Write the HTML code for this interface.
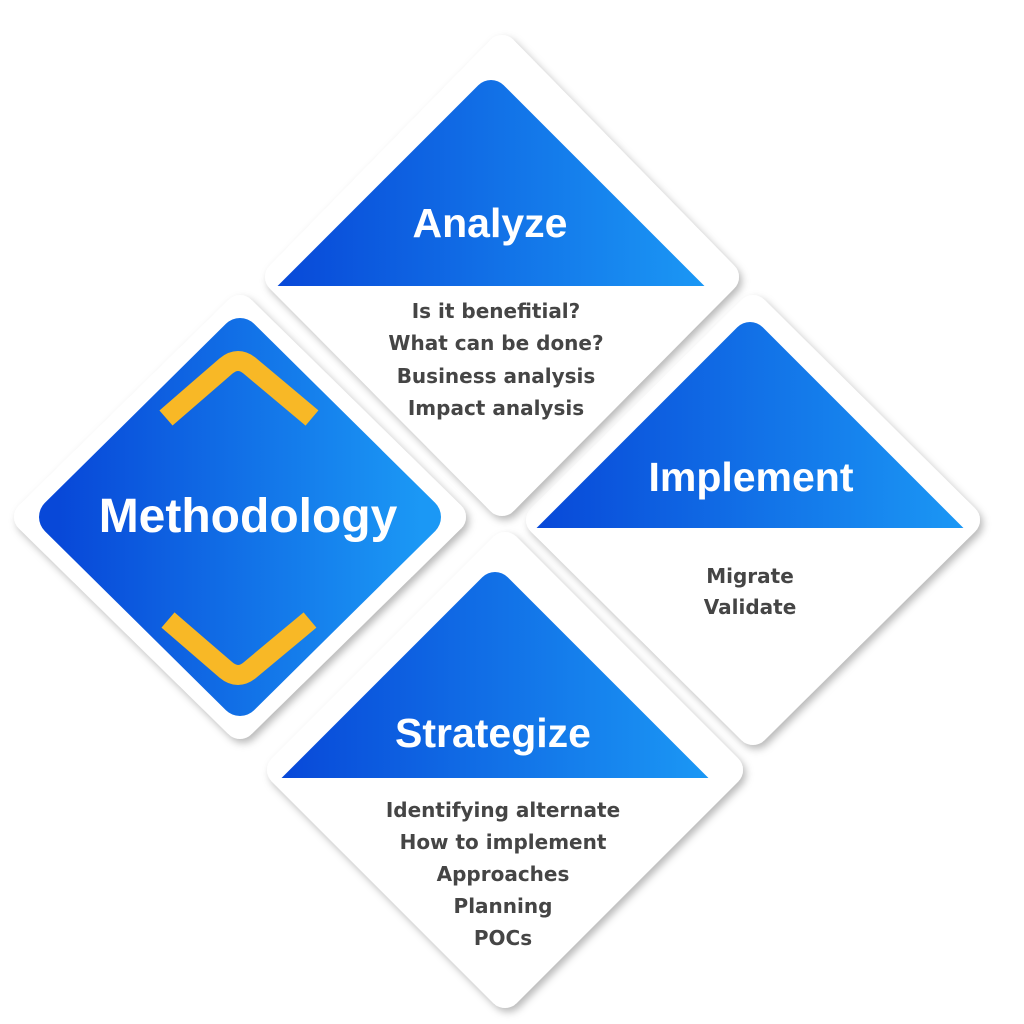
<!DOCTYPE html>
<html><head><meta charset="utf-8"><style>
html,body{margin:0;padding:0;background:#fff;}
svg{display:block;}
.t{font-family:"Liberation Sans",sans-serif;font-weight:bold;fill:#fff;text-anchor:middle;}
.b{font-family:"DejaVu Sans","Liberation Sans",sans-serif;font-weight:bold;fill:#454545;text-anchor:middle;font-size:20px;}
</style></head><body>
<svg width="1024" height="1024" viewBox="0 0 1024 1024" xmlns="http://www.w3.org/2000/svg">
<defs>
<linearGradient id="g" x1="0" y1="0" x2="1" y2="0">
<stop offset="0" stop-color="#0848d8"/><stop offset="1" stop-color="#1b98f5"/>
</linearGradient>
<filter id="sh" x="-20%" y="-20%" width="140%" height="140%">
<feDropShadow dx="3" dy="4" stdDeviation="4" flood-color="#000" flood-opacity="0.28"/>
</filter>
<clipPath id="cA"><rect x="0" y="0" width="1024" height="286"/></clipPath>
<clipPath id="cI"><rect x="0" y="0" width="1024" height="528"/></clipPath>
<clipPath id="cS"><rect x="0" y="0" width="1024" height="778"/></clipPath>
</defs>

<polygon points="505,548 727,770 505,992 283,770" fill="#fff" stroke="#fff" stroke-width="32" stroke-linejoin="round" filter="url(#sh)"/>
<polygon points="753,311 964,520 753,729 542,520" fill="#fff" stroke="#fff" stroke-width="32" stroke-linejoin="round" filter="url(#sh)"/>
<polygon points="502,51 723,277 502,500 281,277" fill="#fff" stroke="#fff" stroke-width="32" stroke-linejoin="round" filter="url(#sh)"/>
<polygon points="240,311 450,517 240,723 30,517" fill="#fff" stroke="#fff" stroke-width="32" stroke-linejoin="round" filter="url(#sh)"/>

<polygon clip-path="url(#cA)" points="491,98 708,315 491,532 274,315" fill="url(#g)" stroke="url(#g)" stroke-width="36" stroke-linejoin="round"/>
<polygon clip-path="url(#cI)" points="750,340 967,557 750,774 533,557" fill="url(#g)" stroke="url(#g)" stroke-width="36" stroke-linejoin="round"/>
<polygon clip-path="url(#cS)" points="495,590 712,807 495,1024 278,807" fill="url(#g)" stroke="url(#g)" stroke-width="36" stroke-linejoin="round"/>

<polygon points="240,338 421,517 240,696 59,517" fill="url(#g)" stroke="url(#g)" stroke-width="40" stroke-linejoin="round"/>
<path d="M166,418 L226,366 Q238,356 250,366 L312,418" fill="none" stroke="#f8b826" stroke-width="20" stroke-linejoin="round"/>
<path d="M168,620 L226,670 Q238,680 250,670 L310,620" fill="none" stroke="#f8b826" stroke-width="20" stroke-linejoin="round"/>

<text class="t" x="248" y="532" font-size="48">Methodology</text>
<text class="t" x="490" y="237" font-size="41">Analyze</text>
<text class="t" x="751" y="491" font-size="41">Implement</text>
<text class="t" x="493" y="747" font-size="41">Strategize</text>

<text class="b" x="496" y="318">Is it benefitial?</text>
<text class="b" x="496" y="350">What can be done?</text>
<text class="b" x="496" y="383">Business analysis</text>
<text class="b" x="496" y="415">Impact analysis</text>

<text class="b" x="750" y="583">Migrate</text>
<text class="b" x="750" y="614">Validate</text>

<text class="b" x="503" y="817">Identifying alternate</text>
<text class="b" x="503" y="849">How to implement</text>
<text class="b" x="503" y="881">Approaches</text>
<text class="b" x="503" y="913">Planning</text>
<text class="b" x="503" y="945">POCs</text>
</svg>
</body></html>
